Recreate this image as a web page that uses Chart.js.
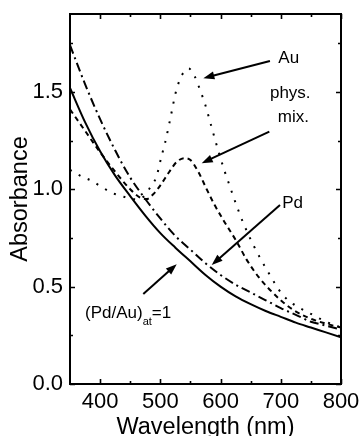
<!DOCTYPE html>
<html>
<head>
<meta charset="utf-8">
<script src="https://cdn.jsdelivr.net/npm/chart.js@4.4.1/dist/chart.umd.min.js"></script>
<style>
  html, body { margin: 0; padding: 0; background: #fff; }
</style>
</head>
<body>
<canvas id="spectra" width="363" height="436"></canvas>
<script>
// UV-vis spectra: Pd, Au, their physical mixture and the (Pd/Au)=1 bimetallic sample
const alloyNm = [350, 375, 400, 425, 450, 475, 500, 525, 550, 575, 600, 625, 650, 675, 700, 725, 750, 775, 800];
const alloyAbs = [1.52, 1.345, 1.195, 1.07, 0.965, 0.865, 0.775, 0.70, 0.63, 0.56, 0.50, 0.45, 0.41, 0.375, 0.345, 0.315, 0.29, 0.265, 0.24];

const pdNm = [350, 375, 400, 425, 450, 475, 500, 525, 550, 575, 600, 625, 650, 675, 700, 725, 750, 775, 800];
const pdAbs = [1.74, 1.54, 1.36, 1.20, 1.06, 0.95, 0.85, 0.76, 0.69, 0.62, 0.56, 0.51, 0.47, 0.43, 0.39, 0.355, 0.32, 0.30, 0.28];

const mixNm = [350, 375, 400, 425, 450, 465, 477, 490, 500, 515, 527, 540, 550, 563, 577, 590, 605, 627, 643, 663, 677, 700, 721, 750, 775, 800];
const mixAbs = [1.41, 1.30, 1.19, 1.09, 1.00, 0.96, 0.95, 0.98, 1.02, 1.09, 1.14, 1.16, 1.15, 1.09, 1.00, 0.92, 0.84, 0.73, 0.64, 0.55, 0.50, 0.43, 0.38, 0.335, 0.31, 0.29];

const auNm = [350, 370, 385, 402, 421, 441, 460, 475, 485, 493, 502, 508, 513, 519, 525, 532, 541, 547, 557, 566, 575, 585, 596, 606, 616, 625, 638, 655, 667, 678, 690, 704, 721, 750, 775, 800];
const auAbs = [1.10, 1.065, 1.045, 1.013, 0.98, 0.96, 0.948, 0.97, 1.02, 1.06, 1.17, 1.24, 1.31, 1.40, 1.49, 1.56, 1.61, 1.62, 1.58, 1.51, 1.43, 1.32, 1.20, 1.10, 1.01, 0.93, 0.825, 0.71, 0.64, 0.58, 0.517, 0.455, 0.41, 0.36, 0.32, 0.29];

const xTicks = [400, 500, 600, 700, 800];
const xMinorTicks = [450, 550, 650, 750];
const yTicks = [0, 0.5, 1.0, 1.5];
const yMinorTicks = [0.25, 0.75, 1.25, 1.75];

const FONT = "'Liberation Sans', Arial, sans-serif";

// labels and arrows, placed in data units
const callouts = [
  { lines: [{ text: 'Au', x: 696, y: 1.65 }], from: [682, 1.659], to: [571.4, 1.57] },
  { lines: [{ text: 'phys.', x: 682, y: 1.467 }, { text: 'mix.', x: 695, y: 1.347 }], from: [681, 1.296], to: [568.7, 1.134] },
  { lines: [{ text: 'Pd', x: 702.5, y: 0.902 }], from: [698.7, 0.919], to: [585.3, 0.611] },
  { lines: [], from: [471.7, 0.462], to: [527.2, 0.615] }
];

function pairs(xs, ys) {
  return xs.map((x, i) => ({ x: x, y: ys[i] }));
}

function arrow(ctx, x1, y1, x2, y2) {
  const ang = Math.atan2(y2 - y1, x2 - x1);
  const head = 11, half = 4;
  ctx.beginPath();
  ctx.moveTo(x1, y1);
  ctx.lineTo(x2 - Math.cos(ang) * head * 0.8, y2 - Math.sin(ang) * head * 0.8);
  ctx.stroke();
  ctx.beginPath();
  ctx.moveTo(x2, y2);
  ctx.lineTo(x2 - Math.cos(ang) * head - Math.sin(ang) * half, y2 - Math.sin(ang) * head + Math.cos(ang) * half);
  ctx.lineTo(x2 - Math.cos(ang) * head + Math.sin(ang) * half, y2 - Math.sin(ang) * head - Math.cos(ang) * half);
  ctx.closePath();
  ctx.fill();
}

// box round the plot with inward ticks on all four sides
const framePlugin = {
  id: 'frame',
  afterDraw(chart) {
    const { ctx, chartArea: a, scales } = chart;
    const sx = scales.x, sy = scales.y;
    ctx.save();
    ctx.strokeStyle = '#000';
    ctx.lineWidth = 2;
    ctx.strokeRect(a.left, a.top, a.right - a.left, a.bottom - a.top);
    ctx.lineWidth = 1.6;
    const tick = (vals, len) => {
      vals.forEach(v => {
        const px = Math.round(sx.getPixelForValue(v)) + 0.5;
        ctx.beginPath();
        ctx.moveTo(px, a.bottom); ctx.lineTo(px, a.bottom - len);
        ctx.moveTo(px, a.top); ctx.lineTo(px, a.top + len);
        ctx.stroke();
      });
    };
    const ytick = (vals, len) => {
      vals.forEach(v => {
        const py = Math.round(sy.getPixelForValue(v)) + 0.5;
        ctx.beginPath();
        ctx.moveTo(a.left, py); ctx.lineTo(a.left + len, py);
        ctx.moveTo(a.right, py); ctx.lineTo(a.right - len, py);
        ctx.stroke();
      });
    };
    tick(xTicks, 5); tick(xMinorTicks, 3);
    ytick(yTicks, 5); ytick(yMinorTicks, 3);

    // callouts
    ctx.fillStyle = '#000';
    ctx.lineWidth = 2;
    ctx.font = '17px ' + FONT;
    ctx.textBaseline = 'alphabetic';
    ctx.textAlign = 'left';
    callouts.forEach(c => {
      c.lines.forEach(l => ctx.fillText(l.text, sx.getPixelForValue(l.x), sy.getPixelForValue(l.y)));
      arrow(ctx, sx.getPixelForValue(c.from[0]), sy.getPixelForValue(c.from[1]),
        sx.getPixelForValue(c.to[0]), sy.getPixelForValue(c.to[1]));
    });

    // (Pd/Au)at=1 with subscript
    let lx = sx.getPixelForValue(374.9), ly = sy.getPixelForValue(0.3405);
    ctx.font = '17px ' + FONT;
    ctx.fillText('(Pd/Au)', lx, ly);
    lx += ctx.measureText('(Pd/Au)').width;
    ctx.font = '11px ' + FONT;
    ctx.fillText('at', lx, ly + 7);
    lx += ctx.measureText('at').width;
    ctx.font = '17px ' + FONT;
    ctx.fillText('=1', lx, ly);
    ctx.restore();
  }
};

const lineDefaults = {
  borderColor: '#000',
  borderWidth: 2,
  pointRadius: 0,
  fill: false,
  cubicInterpolationMode: 'monotone'
};

new Chart(document.getElementById('spectra'), {
  type: 'line',
  data: {
    datasets: [
      Object.assign({ label: '(Pd/Au)at=1', data: pairs(alloyNm, alloyAbs) }, lineDefaults),
      Object.assign({ label: 'Pd', data: pairs(pdNm, pdAbs), borderDash: [9, 4, 2, 4] }, lineDefaults),
      Object.assign({ label: 'phys. mix.', data: pairs(mixNm, mixAbs), borderDash: [5, 4] }, lineDefaults),
      Object.assign({ label: 'Au', data: pairs(auNm, auAbs), borderDash: [2, 8] }, lineDefaults)
    ]
  },
  options: {
    responsive: false,
    devicePixelRatio: 1,
    animation: false,
    layout: { padding: { top: 14, right: 22, left: 0, bottom: 0 } },
    plugins: { legend: { display: false }, tooltip: { enabled: false } },
    scales: {
      x: {
        type: 'linear',
        min: 350,
        max: 800,
        afterBuildTicks: s => { s.ticks = xTicks.map(v => ({ value: v })); },
        afterFit: s => { s.height = 52; s.paddingLeft = 0; s.paddingRight = 0; },
        grid: { display: false, drawTicks: false },
        border: { display: false },
        ticks: { color: '#000', font: { family: FONT, size: 22 }, padding: 5, maxRotation: 0 },
        title: { display: true, text: 'Wavelength (nm)', color: '#000', font: { family: FONT, size: 23.5 }, padding: { top: 0, bottom: -6 } }
      },
      y: {
        min: 0,
        max: 1.9,
        afterBuildTicks: s => { s.ticks = yTicks.map(v => ({ value: v })); },
        afterFit: s => { s.width = 70; s.paddingTop = 0; s.paddingBottom = 0; },
        grid: { display: false, drawTicks: false },
        border: { display: false },
        ticks: { color: '#000', font: { family: FONT, size: 22 }, padding: 7, callback: v => v.toFixed(1) },
        title: { display: true, text: 'Absorbance', color: '#000', font: { family: FONT, size: 23.5 }, padding: { top: 6, bottom: 0 } }
      }
    }
  },
  plugins: [framePlugin]
});
</script>
</body>
</html>
